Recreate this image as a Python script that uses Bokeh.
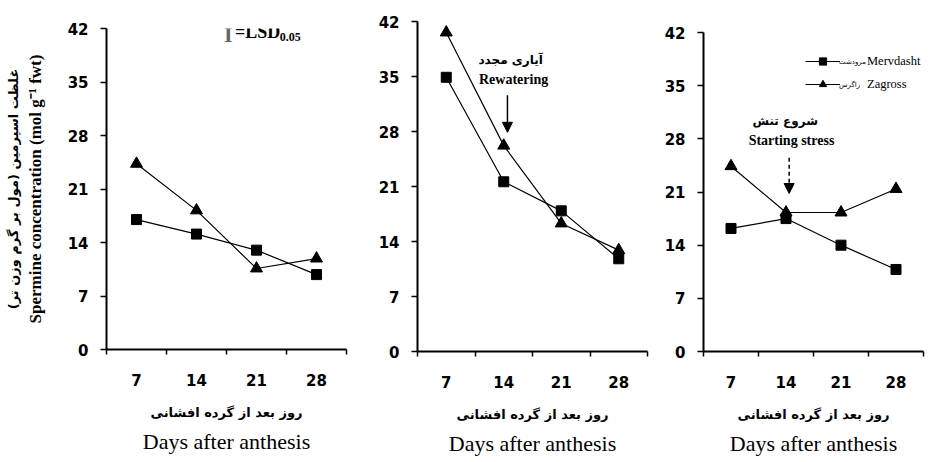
from bokeh.plotting import figure
from bokeh.layouts import row, column
from bokeh.models import (Range1d, FixedTicker, Label, Arrow, NormalHead, Legend,
                          LegendItem, Title)
from bokeh.embed import file_html
from bokeh.resources import INLINE

# ---------------- data ----------------
days = [7, 14, 21, 28]
y_ticks = [0, 7, 14, 21, 28, 35, 42]

mervdasht_A = [17.0, 15.1, 13.0, 9.8]
zagross_A = [24.3, 18.2, 10.6, 11.9]

mervdasht_B = [34.9, 21.6, 17.9, 11.8]
zagross_B = [40.6, 26.2, 16.3, 12.9]

mervdasht_C = [16.2, 17.5, 14.0, 10.8]
zagross_C = [24.4, 18.3, 18.3, 21.4]

x_label_fa = "روز بعد از گرده افشانی"
x_label_en = "Days after anthesis"
y_label_en = "Spermine concentration (mol g⁻¹ fwt)"
y_label_fa = "غلظت اسپرمین (مول بر گرم وزن تر)"

half = 3.5
boundaries = [d - half for d in days] + [days[-1] + half]

SERIF = "Liberation Serif"
SANS = "DejaVu Sans"


def make_panel(width, height, bl, br, bt, bb, merv, zag, letter, lx_off, ly_off):
    p = figure(width=width, height=height,
               x_range=Range1d(days[0] - half, days[-1] + half),
               y_range=Range1d(0, 42),
               output_backend="svg", toolbar_location=None,
               min_border_left=bl, min_border_right=br,
               min_border_top=bt, min_border_bottom=bb)
    p.grid.visible = False
    p.outline_line_color = None
    p.background_fill_color = "white"
    p.border_fill_color = "white"

    xa = p.xaxis[0]
    xa.ticker = FixedTicker(ticks=days, minor_ticks=boundaries)
    xa.axis_line_width = 2
    xa.axis_line_color = "black"
    xa.major_tick_out = 0
    xa.major_tick_in = 0
    xa.minor_tick_out = 5
    xa.minor_tick_in = 0
    xa.minor_tick_line_width = 1.5
    xa.minor_tick_line_color = "black"
    xa.major_label_text_font = SANS
    xa.major_label_text_font_style = "bold"
    xa.major_label_text_font_size = "15px"
    xa.major_label_text_color = "black"
    xa.major_label_standoff = 19
    xa.axis_label = x_label_fa
    xa.axis_label_text_font = SANS
    xa.axis_label_text_font_style = "bold"
    xa.axis_label_text_font_size = "13px"
    xa.axis_label_text_color = "black"
    xa.axis_label_standoff = 16

    ya = p.yaxis[0]
    ya.ticker = FixedTicker(ticks=y_ticks)
    ya.axis_line_width = 2
    ya.axis_line_color = "black"
    ya.major_tick_out = 6
    ya.major_tick_in = 0
    ya.major_tick_line_width = 1.5
    ya.minor_tick_line_color = None
    ya.major_label_text_font = SANS
    ya.major_label_text_font_style = "bold"
    ya.major_label_text_font_size = "15px"
    ya.major_label_text_color = "black"
    ya.major_label_standoff = 12

    t = Title(text=x_label_en, align="center", text_font=SERIF,
              text_font_size="22px", text_font_style="normal", text_color="black",
              standoff=8)
    p.add_layout(t, "below")

    r1 = p.line(days, merv, line_color="black", line_width=1.2)
    r2 = p.scatter(days, merv, marker="square", size=10, color="black")
    r3 = p.line(days, zag, line_color="black", line_width=1.2)
    r4 = p.scatter(days, zag, marker="triangle", size=12, color="black")

    p.add_layout(Label(x=days[0] - half, y=42, x_offset=lx_off, y_offset=ly_off,
                       text=letter, text_font=SERIF, text_font_style="bold",
                       text_font_size="16px", text_baseline="bottom",
                       text_align="left", text_color="black"))
    return p, (r1, r2, r3, r4)


# ---------- Panel A ----------
pA, _ = make_panel(352, 460, 106, 6, 28, 111, mervdasht_A, zagross_A, "A", 6, 2)
pA.yaxis[0].axis_label = y_label_en
pA.yaxis[0].axis_label_text_font = SERIF
pA.yaxis[0].axis_label_text_font_style = "bold"
pA.yaxis[0].axis_label_text_font_size = "17px"
pA.yaxis[0].axis_label_text_color = "black"
pA.yaxis[0].axis_label_standoff = 20
pA.add_layout(Title(text=y_label_fa, align="center", text_font=SANS,
                    text_font_size="13px", text_font_style="bold",
                    text_color="black", standoff=4), "left")
pA.add_layout(Label(x=17.7, y=42, y_offset=7, text="I", text_font=SERIF,
                    text_font_style="bold", text_font_size="22px",
                    text_color="#666666", text_align="center",
                    text_baseline="top"))
pA.add_layout(Label(x=18.5, y=42, y_offset=7, text="=LSD", text_font=SERIF,
                    text_font_style="bold", text_font_size="18px",
                    text_color="black", text_align="left",
                    text_baseline="top"))
pA.add_layout(Label(x=23.7, y=42, y_offset=-4, text="0.05", text_font=SERIF,
                    text_font_style="bold", text_font_size="12px",
                    text_color="black", text_align="left",
                    text_baseline="top"))

# ---------- Panel B ----------
pB, _ = make_panel(300, 460, 65, 5, 21, 109, mervdasht_B, zagross_B, "B", 8, 2)
pB.add_layout(Label(x=14.84, y=37.1, text="آیاری مجدد", text_font=SANS,
                    text_font_style="bold", text_font_size="12px",
                    text_color="black", text_align="center",
                    text_baseline="middle"))
pB.add_layout(Label(x=15.2, y=34.6, text="Rewatering", text_font=SERIF,
                    text_font_style="bold", text_font_size="14px",
                    text_color="black", text_align="center",
                    text_baseline="middle"))
pB.add_layout(Arrow(end=NormalHead(size=10, fill_color="black", line_color="black"),
                    x_start=14.45, y_start=32.6, x_end=14.45, y_end=27.9,
                    line_width=1.5, line_color="black"))

# ---------- Panel C ----------
pC, rC = make_panel(284, 460, 51, 13, 32, 109, mervdasht_C, zagross_C, "C", 9, 3)
pC.add_layout(Label(x=13.9, y=30.4, text="شروع تنش", text_font=SANS,
                    text_font_style="bold", text_font_size="12px",
                    text_color="black", text_align="center",
                    text_baseline="middle"))
pC.add_layout(Label(x=14.7, y=27.8, text="Starting stress", text_font=SERIF,
                    text_font_style="bold", text_font_size="14px",
                    text_color="black", text_align="center",
                    text_baseline="middle"))
pC.add_layout(Arrow(end=NormalHead(size=10, fill_color="black", line_color="black"),
                    x_start=14.4, y_start=25.5, x_end=14.4, y_end=20.8,
                    line_width=1.5, line_color="black", line_dash="4 3"))

legend = Legend(items=[LegendItem(label="Mervdasht", renderers=[rC[0], rC[1]]),
                       LegendItem(label="Zagross", renderers=[rC[2], rC[3]])],
                location=(102, 258), glyph_width=35, glyph_height=18,
                label_height=18, spacing=5,
                padding=0, margin=0, label_standoff=27, border_line_color=None,
                background_fill_alpha=0, label_text_font=SERIF,
                label_text_font_size="12.5px", label_text_color="black")
pC.add_layout(legend)
pC.add_layout(Label(x=20.75, y=38.18, text="مرودشت", text_font=SANS,
                    text_font_size="7px", text_color="black", text_align="left",
                    text_baseline="middle"))
pC.add_layout(Label(x=20.75, y=35.15, text="زاگرس", text_font=SANS,
                    text_font_size="7px", text_color="black", text_align="left",
                    text_baseline="middle"))

layout = row(column(pA), column(pB), column(pC))
open("out.html", "w").write(file_html(layout, INLINE))
